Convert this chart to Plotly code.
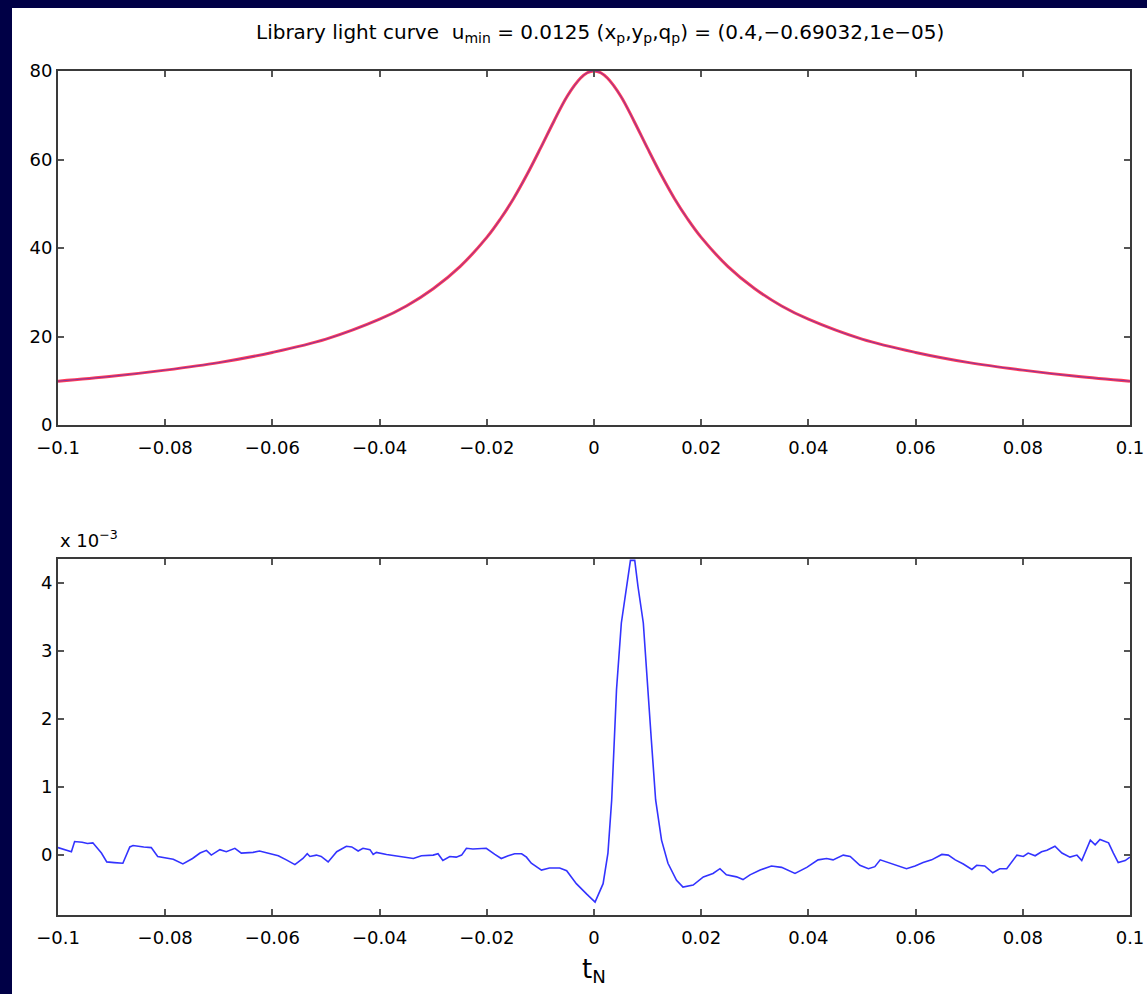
import plotly.graph_objects as go
from plotly.subplots import make_subplots

# ---------------- data ----------------
t_model = [-0.1, -0.09, -0.08, -0.07, -0.06, -0.05, -0.04, -0.035, -0.03, -0.025,
           -0.02, -0.0175, -0.015, -0.0125, -0.01, -0.0075, -0.005, -0.0025, -0.00125, 0.0,
           0.00125, 0.0025, 0.005, 0.0075, 0.01, 0.0125, 0.015, 0.0175, 0.02,
           0.025, 0.03, 0.035, 0.04, 0.05, 0.06, 0.07, 0.08, 0.09, 0.1]
mag_library = [9.9, 11.0, 12.4, 14.1, 16.4, 19.4, 23.9, 26.9, 30.8, 35.8,
               42.4, 46.5, 51.2, 56.6, 62.5, 68.6, 74.3, 78.4, 79.6, 80.0,
               79.6, 78.4, 74.3, 68.6, 62.5, 56.6, 51.2, 46.5, 42.4,
               35.8, 30.8, 26.9, 23.9, 19.4, 16.4, 14.1, 12.4, 11.0, 9.9]
mag_observed = [9.9, 11.0, 12.4, 14.1, 16.4, 19.4, 23.9, 26.9, 30.8, 35.8,
                42.4, 46.5, 51.2, 56.6, 62.5, 68.6, 74.3, 78.4, 79.6, 80.0,
                79.6, 78.4, 74.3, 68.6, 62.5, 56.6, 51.2, 46.5, 42.4,
                35.8, 30.8, 26.9, 23.9, 19.4, 16.4, 14.1, 12.4, 11.0, 9.9]

t_resid = [-0.1000, -0.0991, -0.0975, -0.0969, -0.0955, -0.0945, -0.0935, -0.0919, -0.0909,
           -0.0895, -0.0879, -0.0866, -0.0860, -0.0840, -0.0826, -0.0814, -0.0800, -0.0785,
           -0.0767, -0.0749, -0.0735, -0.0723, -0.0714, -0.0698, -0.0686, -0.0670, -0.0658,
           -0.0636, -0.0624, -0.0605, -0.0589, -0.0574, -0.0558, -0.0543, -0.0535,
           -0.0530, -0.0518, -0.0509, -0.0496, -0.0480, -0.0462, -0.0452, -0.0440, -0.0431,
           -0.0418, -0.0412, -0.0406, -0.0387, -0.0368, -0.0356, -0.0337, -0.0322, -0.0300,
           -0.0291, -0.0282, -0.0269, -0.0257, -0.0247, -0.0238, -0.0226, -0.0213, -0.0201,
           -0.0185, -0.0173, -0.0160, -0.0148, -0.0135, -0.0126, -0.0117, -0.0098, -0.0083,
           -0.0064, -0.0051, -0.0033, -0.0014, 0.0002, 0.0017, 0.0026, 0.0033, 0.0042,
           0.0051, 0.0061, 0.0068, 0.0076, 0.0082, 0.0092, 0.0098, 0.0107, 0.0115, 0.0126,
           0.0138, 0.0154, 0.0166, 0.0185, 0.0204, 0.0222, 0.0235, 0.0247, 0.0266, 0.0278,
           0.0291, 0.0310, 0.0331, 0.0350, 0.0375, 0.0397, 0.0418, 0.0434, 0.0446, 0.0465,
           0.0478, 0.0496, 0.0512, 0.0524, 0.0534, 0.0549, 0.0565, 0.0583, 0.0599, 0.0614,
           0.0630, 0.0649, 0.0661, 0.0674, 0.0689, 0.0705, 0.0714, 0.0729, 0.0744, 0.0757,
           0.0770, 0.0789, 0.0801, 0.0810, 0.0823, 0.0835, 0.0845, 0.0860, 0.0873, 0.0888,
           0.0901, 0.0910, 0.0926, 0.0935, 0.0944, 0.0960, 0.0969, 0.0978, 0.0991, 0.1000]
resid_e3 = [0.11, 0.09, 0.05, 0.20, 0.19, 0.17, 0.18, 0.03, -0.10,
            -0.11, -0.12, 0.12, 0.14, 0.12, 0.11, -0.02, -0.04, -0.06,
            -0.13, -0.05, 0.03, 0.07, 0.00, 0.08, 0.05, 0.10, 0.03,
            0.04, 0.06, 0.02, -0.01, -0.07, -0.14, -0.05, 0.02,
            -0.02, 0.00, -0.02, -0.10, 0.05, 0.13, 0.12, 0.06, 0.10,
            0.08, 0.01, 0.04, 0.01, -0.01, -0.02, -0.05, -0.01, 0.00,
            0.02, -0.08, -0.02, -0.03, 0.00, 0.10, 0.09, 0.09, 0.10,
            0.01, -0.05, -0.01, 0.02, 0.02, -0.03, -0.12, -0.22, -0.19,
            -0.19, -0.23, -0.42, -0.57, -0.69, -0.42, 0.03, 0.81, 2.43,
            3.41, 4.00, 4.33, 4.33, 3.95, 3.41, 2.67, 1.69, 0.81, 0.22,
            -0.12, -0.37, -0.47, -0.44, -0.32, -0.27, -0.20, -0.29, -0.32, -0.36,
            -0.29, -0.22, -0.16, -0.18, -0.27, -0.18, -0.07, -0.05, -0.07, 0.00,
            -0.02, -0.15, -0.20, -0.17, -0.07, -0.11, -0.15, -0.20, -0.16, -0.11,
            -0.07, 0.01, 0.00, -0.07, -0.13, -0.21, -0.15, -0.16, -0.26, -0.20,
            -0.20, 0.00, -0.02, 0.03, -0.01, 0.05, 0.07, 0.13, 0.03, -0.03,
            0.00, -0.08, 0.22, 0.15, 0.23, 0.18, 0.03, -0.11, -0.08, -0.03]

x_tickvals = [-0.1, -0.08, -0.06, -0.04, -0.02, 0, 0.02, 0.04, 0.06, 0.08, 0.1]
x_ticktext = ["\u22120.1", "\u22120.08", "\u22120.06", "\u22120.04", "\u22120.02", "0",
              "0.02", "0.04", "0.06", "0.08", "0.1"]
top_yticks = [0, 20, 40, 60, 80]
bot_yticks = [0, 1, 2, 3, 4]

# ---------------- figure ----------------
W, H = 1147, 994
ML, MR, MT, MB = 58, 17, 71, 79
PH = H - MT - MB
PW = W - ML - MR
top_dom = [(H - MB - 425) / PH, 1.0]
bot_dom = [0.0, (H - MB - 559) / PH]

FONT = "DejaVu Sans"
fig = make_subplots(rows=2, cols=1)

fig.add_trace(go.Scatter(x=t_model, y=mag_library, mode="lines",
                         line=dict(color="rgba(255,40,70,0.9)", width=3, shape="spline"),
                         showlegend=False), row=1, col=1)
fig.add_trace(go.Scatter(x=t_model, y=mag_observed, mode="lines",
                         line=dict(color="rgba(40,40,210,0.55)", width=1, shape="spline"),
                         showlegend=False), row=1, col=1)
fig.add_trace(go.Scatter(x=t_resid, y=resid_e3, mode="lines",
                         line=dict(color="#3333ff", width=1.6),
                         showlegend=False), row=2, col=1)

axis_common = dict(showline=True, linecolor="#3a3a3a", linewidth=2, mirror="ticks",
                   ticks="inside", ticklen=6, tickcolor="#555555", tickwidth=1.5,
                   showgrid=False, zeroline=False, automargin=False,
                   tickfont=dict(family=FONT, size=18, color="black"))

fig.update_xaxes(range=[-0.1, 0.1], tickvals=x_tickvals, ticktext=x_ticktext,
                 ticklabelstandoff=5, **axis_common)
fig.update_yaxes(**axis_common)
fig.update_layout(
    xaxis=dict(domain=[0, 1]), xaxis2=dict(domain=[0, 1]),
    yaxis=dict(domain=top_dom, range=[0, 80], tickvals=top_yticks),
    yaxis2=dict(domain=bot_dom, range=[-0.88, 4.35], tickvals=bot_yticks),
)

# background: navy border with white figure panel
fig.add_shape(type="rect", xref="paper", yref="paper",
              x0=(12 - ML) / PW, x1=(W - ML) / PW + 0.01,
              y0=(H - MB - H) / PH - 0.01, y1=(H - MB - 8) / PH,
              fillcolor="white", line=dict(width=0), layer="below")

fig.add_annotation(xref="paper", yref="paper", x=(600 - ML) / PW,
                   y=(H - MB - 33) / PH, xanchor="center", yanchor="middle",
                   text="Library light curve  u<sub>min</sub> = 0.0125 (x<sub>p</sub>,y<sub>p</sub>,q<sub>p</sub>) = (0.4,\u22120.69032,1e\u221205)",
                   showarrow=False, font=dict(family=FONT, size=20, color="black"))
fig.add_annotation(xref="paper", yref="paper", x=0, y=(H - MB - 553) / PH,
                   xanchor="left", yanchor="bottom",
                   text="x 10<sup>\u22123</sup>",
                   showarrow=False, font=dict(family=FONT, size=18, color="black"))
fig.add_annotation(xref="paper", yref="paper", x=(594 - ML) / PW,
                   y=(H - MB - 952) / PH, xanchor="center", yanchor="top",
                   text="t<sub>N</sub>",
                   showarrow=False, font=dict(family=FONT, size=26, color="black"))

fig.update_layout(width=W, height=H, margin=dict(l=ML, r=MR, t=MT, b=MB, autoexpand=False),
                  paper_bgcolor="#000046", plot_bgcolor="white",
                  font=dict(family=FONT, color="black"), showlegend=False)

fig.write_html("out.html", config={"displayModeBar": False},
               post_script="document.body.style.margin='0px';document.body.style.overflow='hidden';")
